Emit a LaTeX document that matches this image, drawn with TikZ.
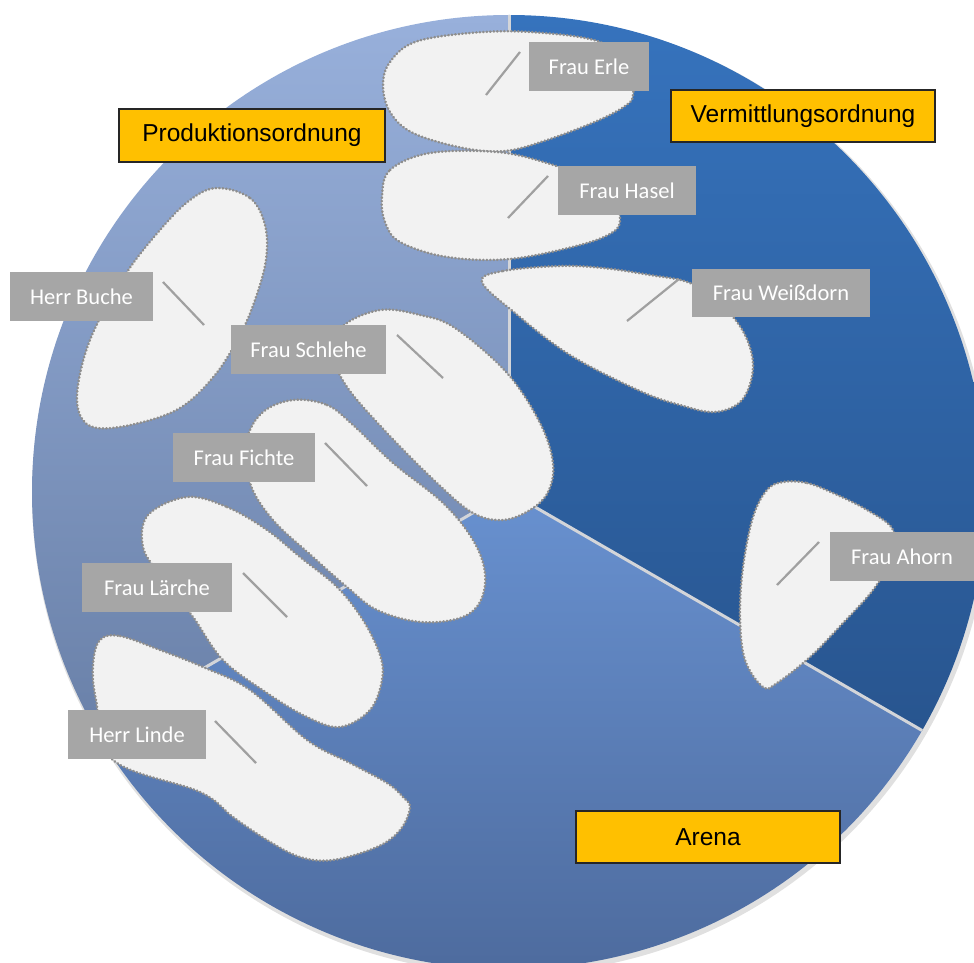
\documentclass[tikz,border=0pt]{standalone}
\usepackage{fontspec}
\usetikzlibrary{calc}
\setmainfont{Liberation Sans}
\newfontfamily\labelfont{Carlito}
\definecolor{prodtop}{HTML}{98B0DB}
\definecolor{prodbot}{HTML}{6A81A9}
\definecolor{vermtop}{HTML}{3673BD}
\definecolor{vermbot}{HTML}{28558F}
\definecolor{arentop}{HTML}{6891D0}
\definecolor{arenbot}{HTML}{4A6697}
\definecolor{sepgray}{HTML}{D3D5D9}
\definecolor{blobfill}{HTML}{F2F2F2}
\definecolor{blobedge}{HTML}{8E8E8E}
\definecolor{labgray}{HTML}{A6A6A6}
\definecolor{leadgray}{HTML}{A0A0A0}
\definecolor{tagorange}{HTML}{FFC000}
\begin{document}
\begin{tikzpicture}[x=1pt,y=-1pt,
  sepline/.style={draw=sepgray, line width=3pt},
  blob/.style={fill=blobfill, draw=blobedge, line width=2.5pt, line cap=round,
    dash pattern=on 0.6pt off 2.9pt},
  lab/.style={fill=labgray, text=white, inner sep=0pt,
    font=\labelfont\fontsize{22.5}{27}\selectfont},
  leader/.style={draw=leadgray, line width=2.2pt},
  tag/.style={fill=tagorange, draw=black!85, line width=1.6pt, inner sep=0pt,
    font=\fontsize{24.5}{29}\selectfont}]
\useasboundingbox (0,0) rectangle (974,963);
\clip (0,0) rectangle (974,963);

% pie: centre and radius
\coordinate (c) at (509,492);
\def\R{477}
\coordinate (ptop) at (509,15);
\coordinate (pright) at ($(c)+(30:\R)$);
\coordinate (pleft) at ($(c)+(150:\R)$);

% soft shadow round the disc
\fill[black!12] (511,495) circle[radius=479];

% three sectors
\shade[top color=prodtop, bottom color=prodbot]
  (c) -- (ptop) arc[start angle=270, end angle=150, radius=\R] -- cycle;
\shade[top color=vermtop, bottom color=vermbot]
  (c) -- (ptop) arc[start angle=-90, end angle=30, radius=\R] -- cycle;
\shade[top color=arentop, bottom color=arenbot]
  (c) -- (pright) arc[start angle=30, end angle=150, radius=\R] -- cycle;
\draw[sepline] (c) -- (ptop);
\draw[sepline] (c) -- (pright);
\draw[sepline] (c) -- (pleft);

% persons
\path[blob] plot[smooth cycle, tension=0.6] coordinates {(383,85) (390,62) (415,42) (470,33) (530,32) (600,42) (630,70) (633,95) (625,106) (597,121) (547,140) (505,151) (463,148) (413,133) (390,112)};
\path[blob] plot[smooth cycle, tension=0.6] coordinates {(382,197) (390,170) (430,153) (497,152) (547,163) (585,178) (612,197) (620,218) (613,232) (580,245) (510,259) (447,257) (400,242) (385,222)};
\path[blob] plot[smooth cycle, tension=0.6] coordinates {(482,282) (503,271) (560,266) (603,268) (650,275) (690,283) (722,305) (745,335) (753,368) (742,400) (715,412) (680,405) (640,391) (570,355) (515,313)};
\path[blob] plot[smooth cycle, tension=0.6] coordinates {(217,188) (250,198) (265,225) (266,260) (255,300) (240,335) (215,375) (180,408) (135,424) (97,428) (80,415) (78,385) (92,335) (125,275) (160,230) (190,200)};
\path[blob] plot[smooth cycle, tension=0.6] coordinates {(380,310) (420,315) (455,328) (507,373) (540,423) (553,463) (548,492) (530,510) (503,520) (473,513) (437,483) (387,433) (347,387) (335,357) (342,327)};
\path[blob] plot[smooth cycle, tension=0.6] coordinates {(293,400) (327,405) (353,425) (393,463) (443,503) (473,540) (485,573) (480,602) (460,618) (420,622) (377,610) (347,587) (313,557) (273,520) (250,483) (247,440) (263,412)};
\path[blob] plot[smooth cycle, tension=0.6] coordinates {(187,497) (227,507) (267,530) (300,557) (337,587) (363,620) (380,655) (382,680) (370,710) (340,727) (307,717) (267,693) (223,660) (193,617) (160,575) (143,547) (148,515)};
\path[blob] plot[smooth cycle, tension=0.6] coordinates {(100,640) (120,636) (160,650) (203,667) (250,690) (307,740) (350,763) (387,783) (403,797) (410,808) (400,830) (377,847) (333,860) (300,857) (267,840) (233,817) (200,792) (113,760) (96,700) (93,665)};
\path[blob] plot[smooth cycle, tension=0.6] coordinates {(783,482) (807,483) (833,493) (867,510) (893,530) (890,560) (873,590) (843,623) (810,657) (777,683) (763,687) (745,660) (740,617) (743,567) (753,517) (767,490)};

% name tags
\node[lab, minimum width=120, minimum height=49] (erle)     at (589,66.5)   {Frau Erle};
\node[lab, minimum width=138, minimum height=49] (hasel)    at (627,190.5)  {Frau Hasel};
\node[lab, minimum width=178, minimum height=48] (weiss)    at (781,293)    {Frau Weißdorn};
\node[lab, minimum width=143, minimum height=49] (buche)    at (81.5,296.5) {Herr Buche};
\node[lab, minimum width=155, minimum height=49] (schlehe)  at (308.5,349.5){Frau Schlehe};
\node[lab, minimum width=142, minimum height=49] (fichte)   at (244,457.5)  {Frau Fichte};
\node[lab, minimum width=150, minimum height=49] (laerche)  at (157,587.5)  {Frau Lärche};
\node[lab, minimum width=138, minimum height=49] (linde)    at (137,734.5)  {Herr Linde};
\node[lab, minimum width=144, minimum height=49] (ahorn)    at (902,556.5)  {Frau Ahorn};

% leader lines from each tag into its shape
\coordinate (erleA) at (520,52);    \coordinate (erleB) at (486,95);
\coordinate (haselA) at (548,176);  \coordinate (haselB) at (508,218);
\coordinate (weissA) at (679,279);  \coordinate (weissB) at (627,321);
\coordinate (bucheA) at (163,282);  \coordinate (bucheB) at (204,325);
\coordinate (schleheA) at (397,335);\coordinate (schleheB) at (443,378);
\coordinate (fichteA) at (325,443); \coordinate (fichteB) at (367,486);
\coordinate (laercheA) at (243,573);\coordinate (laercheB) at (287,617);
\coordinate (lindeA) at (215,721);  \coordinate (lindeB) at (256,763);
\coordinate (ahornA) at (819,542);  \coordinate (ahornB) at (777,585);
\foreach \p in {erle,hasel,weiss,buche,schlehe,fichte,laerche,linde,ahorn}
  \draw[leader] (\p A) -- (\p B);

% orders
\node[tag, minimum width=266, minimum height=53] (prod)  at (252,135.5) {Produktionsordnung};
\node[tag, minimum width=264, minimum height=52] (verm)  at (803,116)   {Vermittlungsordnung};
\node[tag, minimum width=264, minimum height=52] (arena) at (708,837)   {Arena};
\end{tikzpicture}
\end{document}
